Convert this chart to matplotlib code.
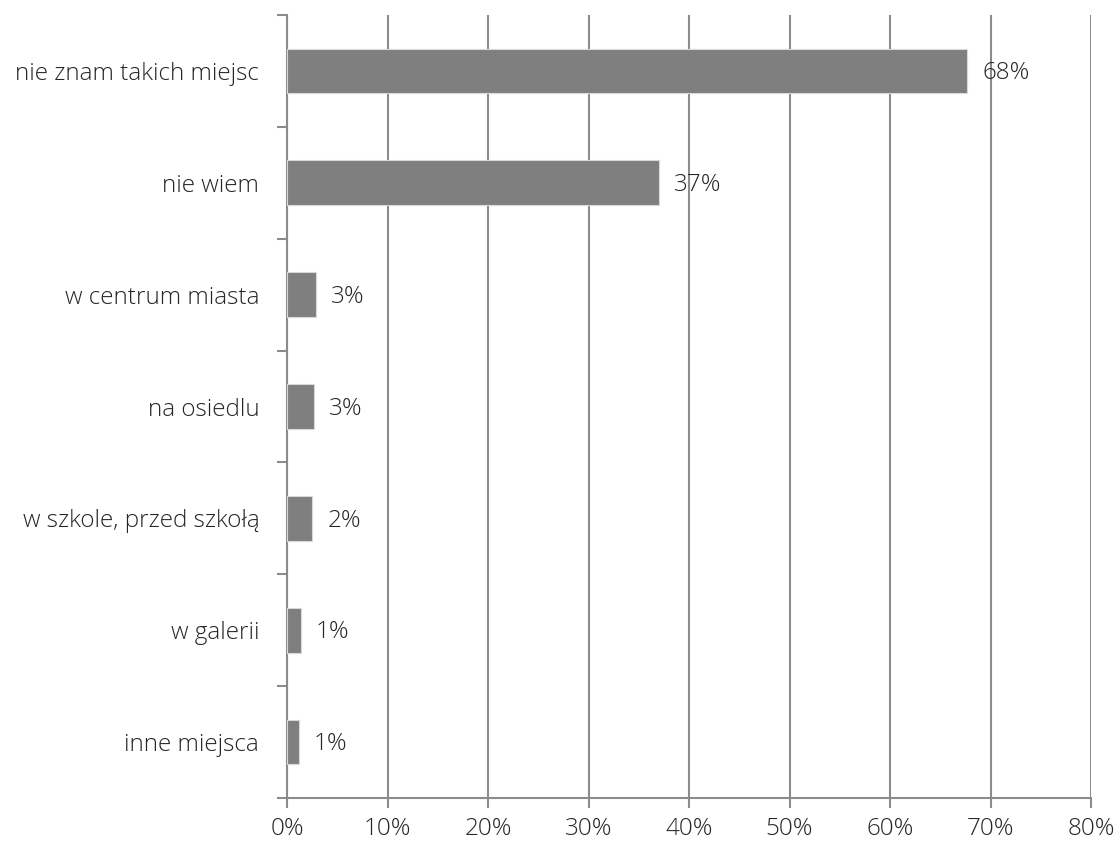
import matplotlib.pyplot as plt
from matplotlib.ticker import FixedLocator, PercentFormatter
import numpy as np

categories = ['nie znam takich miejsc', 'nie wiem', 'w centrum miasta', 'na osiedlu',
              'w szkole, przed szkołą', 'w galerii', 'inne miejsca']
values = [67.7, 37.0, 2.9, 2.7, 2.5, 1.4, 1.2]
labels = ['68%', '37%', '3%', '3%', '2%', '1%', '1%']

plt.rcParams['font.family'] = ['Open Sans', 'DejaVu Sans']
txt = '#262626'
grid_c = '#8c8c8c'

fig = plt.figure(figsize=(11.19, 8.5), dpi=100)
ax = fig.add_axes([287 / 1119, 1 - 798 / 850, (1091 - 287) / 1119, (798 - 15) / 850])

y = np.arange(len(categories))
ax.barh(y, values, height=0.4, color='#7f7f7f', edgecolor='#d9d9d9', linewidth=0.8, zorder=3)

for yi, v, lab in zip(y, values, labels):
    ax.text(v + 1.5, yi + 0.02, lab, va='center', ha='left', fontsize=17.5, color=txt,
            fontweight='light', zorder=4)

ax.set_xlim(0, 80)
ax.set_ylim(len(categories) - 0.5, -0.5)
ax.set_xticks(np.arange(0, 81, 10))
ax.xaxis.set_major_formatter(PercentFormatter(decimals=0))
ax.xaxis.grid(True, color=grid_c, linewidth=1.5, zorder=0)

# category labels centred, ticks at boundaries
ax.yaxis.set_major_locator(FixedLocator(np.arange(-0.5, len(categories), 1)))
ax.yaxis.set_major_formatter(plt.NullFormatter())
ax.yaxis.set_minor_locator(FixedLocator(y))
ax.set_yticklabels(categories, minor=True)
ax.tick_params(axis='y', which='minor', length=0, pad=20, labelsize=17.5, labelcolor=txt)
ax.tick_params(axis='y', which='major', length=7, width=1.5, color=grid_c)
ax.tick_params(axis='x', length=7, width=1.5, color=grid_c, labelsize=17.5, labelcolor=txt, pad=7)
for t in ax.get_xticklabels() + ax.get_yticklabels(minor=True):
    t.set_fontweight('light')

for s in ['top', 'right']:
    ax.spines[s].set_visible(False)
for s in ['left', 'bottom']:
    ax.spines[s].set_color(grid_c)
    ax.spines[s].set_linewidth(1.5)

fig.savefig('out.png', dpi=100)
